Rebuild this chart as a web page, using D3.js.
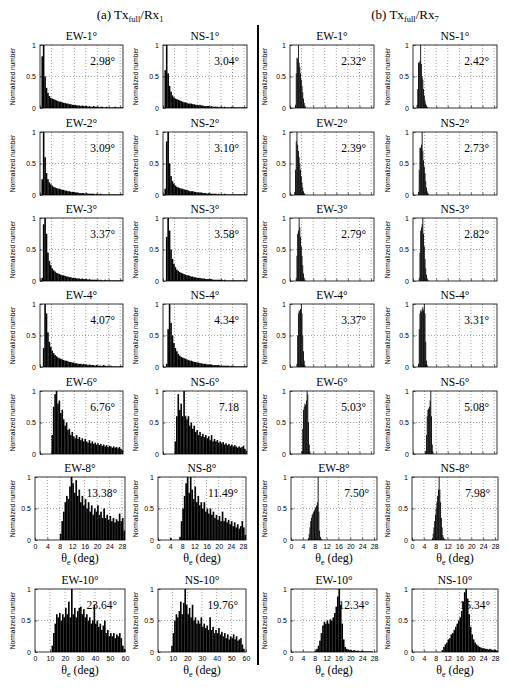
<!DOCTYPE html>
<html>
<head>
<meta charset="utf-8">
<script src="https://cdn.jsdelivr.net/npm/d3@7"></script>
<style>
  body { margin: 0; background: #fff; }
  text { fill: #000; }
</style>
</head>
<body>
<svg id="chart"></svg>
<script>
// Histogramas normalizados de theta_e, (a) Tx_full/Rx1 y (b) Tx_full/Rx7

const svg_w = 510;
const svg_h = 689;

// etiquetas de cada fila (ángulo) y medianas escritas en cada panel
const rowDeg = [1, 2, 3, 4, 6, 8, 10];
const medA_EW = ["2.98°", "3.09°", "3.37°", "4.07°", "6.76°", "13.38°", "23.64°"];
const medA_NS = ["3.04°", "3.10°", "3.58°", "4.34°", "7.18", "11.49°", "19.76°"];
const medB_EW = ["2.32°", "2.39°", "2.79°", "3.37°", "5.03°", "7.50°", "12.34°"];
const medB_NS = ["2.42°", "2.73°", "2.82°", "3.31°", "5.08°", "7.98°", "15.34°"];

// ancho de bin (grados) y comienzo del primer bin
const binA = [0.5, 0.5, 0.5, 0.5, 0.5, 0.5, 1];
const binB = [0.25, 0.25, 0.25, 0.25, 0.25, 0.25, 0.5];
const startA_EW = [0, 0, 0, 0, 0, 0, 0];
const startA_NS = [0, 0, 0, 0, 0, 0, 0];
const startB_EW = [1.75, 1.5, 2, 2.25, 4, 5.75, 8];
const startB_NS = [1.25, 1.75, 2, 1.75, 4.25, 6.75, 10];

// límites del eje x y marcas
const xMaxA = [29, 29, 29, 29, 29, 29, 60];
const xMaxB = [29, 29, 29, 29, 29, 29, 29];
const ticks30 = [0, 4, 8, 12, 16, 20, 24, 28];
const ticks60 = [0, 10, 20, 30, 40, 50, 60];
const yTicks = [0, 0.5, 1];

// (a) Tx_full/Rx1 -- EW
const aEW1 = [0, 0.82, 1.0, 0.5, 0.32, 0.24, 0.19, 0.16, 0.15, 0.14, 0.13, 0.12, 0.11, 0.1, 0.1, 0.09, 0.08, 0.08, 0.07, 0.07, 0.06, 0.06, 0.05, 0.05, 0.05, 0.04, 0.04, 0.04, 0.03, 0.04, 0.03, 0.03, 0.03, 0.02, 0.03, 0.02, 0.02, 0.03, 0.02, 0.02, 0.02, 0.01, 0.02, 0.02, 0.01, 0.01, 0.02, 0.01, 0.01, 0.01, 0.01, 0.01, 0.02, 0.01, 0.01, 0.01, 0.01, 0.01];
const aEW2 = [0, 0.25, 1.0, 0.6, 0.35, 0.25, 0.2, 0.17, 0.15, 0.13, 0.12, 0.11, 0.1, 0.1, 0.09, 0.08, 0.08, 0.07, 0.07, 0.06, 0.06, 0.05, 0.05, 0.05, 0.04, 0.04, 0.04, 0.03, 0.03, 0.03, 0.03, 0.02, 0.03, 0.02, 0.02, 0.02, 0.02, 0.02, 0.01, 0.02, 0.01, 0.01, 0.02, 0.01, 0.01, 0.01, 0.01, 0.01, 0.01, 0.01, 0.01, 0.01, 0.01, 0.01, 0.01, 0.01, 0.01, 0.01];
const aEW3 = [0, 0.05, 0.9, 1.0, 0.75, 0.45, 0.32, 0.25, 0.2, 0.17, 0.15, 0.13, 0.12, 0.11, 0.1, 0.09, 0.09, 0.08, 0.07, 0.07, 0.06, 0.06, 0.05, 0.05, 0.05, 0.04, 0.04, 0.04, 0.03, 0.04, 0.03, 0.03, 0.03, 0.02, 0.03, 0.02, 0.02, 0.02, 0.02, 0.02, 0.02, 0.01, 0.02, 0.01, 0.01, 0.02, 0.01, 0.01, 0.01, 0.01, 0.01, 0.01, 0.01, 0.01, 0.01, 0.01, 0.01, 0.01];
const aEW4 = [0, 0, 0.3, 1.0, 0.85, 0.55, 0.4, 0.32, 0.26, 0.22, 0.19, 0.17, 0.15, 0.14, 0.13, 0.12, 0.11, 0.1, 0.1, 0.09, 0.08, 0.08, 0.07, 0.07, 0.06, 0.06, 0.05, 0.05, 0.05, 0.04, 0.05, 0.04, 0.04, 0.03, 0.04, 0.03, 0.03, 0.03, 0.02, 0.03, 0.02, 0.02, 0.02, 0.02, 0.03, 0.02, 0.01, 0.02, 0.01, 0.02, 0.01, 0.01, 0.01, 0.01, 0.01, 0.01, 0.01, 0.01];
const aEW6 = [0, 0, 0, 0, 0, 0, 0, 0, 0.3, 0.75, 0.95, 1.0, 0.8, 0.85, 0.65, 0.7, 0.55, 0.45, 0.5, 0.38, 0.4, 0.3, 0.35, 0.28, 0.25, 0.3, 0.24, 0.27, 0.22, 0.25, 0.2, 0.24, 0.2, 0.18, 0.22, 0.17, 0.2, 0.16, 0.18, 0.15, 0.17, 0.14, 0.16, 0.13, 0.15, 0.12, 0.14, 0.11, 0.13, 0.12, 0.1, 0.12, 0.1, 0.11, 0.09, 0.11, 0.08, 0.06];
const aEW8 = [0, 0, 0, 0, 0, 0, 0, 0, 0, 0, 0, 0, 0, 0, 0, 0, 0.1, 0.3, 0.45, 0.6, 0.7, 0.65, 0.85, 1.0, 0.9, 0.75, 0.95, 0.7, 0.8, 0.6, 0.7, 0.55, 0.65, 0.5, 0.6, 0.45, 0.55, 0.4, 0.5, 0.45, 0.55, 0.4, 0.45, 0.35, 0.5, 0.35, 0.4, 0.32, 0.38, 0.3, 0.35, 0.28, 0.33, 0.3, 0.42, 0.3, 0.35, 0.15];
const aEW10 = [0, 0, 0, 0, 0, 0, 0, 0, 0, 0, 0, 0.1, 0.3, 0.45, 0.6, 0.55, 0.62, 0.5, 0.6, 0.55, 0.7, 0.6, 0.8, 0.55, 1.0, 0.6, 0.7, 0.55, 0.65, 0.7, 0.72, 0.6, 0.68, 0.55, 0.6, 0.5, 0.55, 0.45, 0.5, 0.75, 0.45, 0.5, 0.4, 0.45, 0.35, 0.42, 0.5, 0.3, 0.35, 0.25, 0.3, 0.25, 0.3, 0.22, 0.28, 0.25, 0.3, 0.22, 0.1, 0.05];

// (a) Tx_full/Rx1 -- NS
const aNS1 = [0, 0.6, 1.0, 0.55, 0.35, 0.26, 0.2, 0.17, 0.15, 0.14, 0.13, 0.12, 0.11, 0.1, 0.09, 0.09, 0.08, 0.07, 0.07, 0.07, 0.06, 0.06, 0.05, 0.05, 0.04, 0.05, 0.04, 0.04, 0.03, 0.03, 0.03, 0.03, 0.02, 0.03, 0.02, 0.02, 0.02, 0.02, 0.01, 0.02, 0.02, 0.01, 0.02, 0.01, 0.01, 0.01, 0.01, 0.02, 0.01, 0.01, 0.01, 0.01, 0.01, 0.01, 0.01, 0.01, 0.01, 0.01];
const aNS2 = [0, 0.1, 0.85, 1.0, 0.5, 0.3, 0.22, 0.18, 0.15, 0.13, 0.12, 0.11, 0.1, 0.1, 0.09, 0.08, 0.08, 0.07, 0.06, 0.06, 0.06, 0.05, 0.05, 0.04, 0.04, 0.04, 0.04, 0.03, 0.03, 0.03, 0.02, 0.03, 0.02, 0.02, 0.02, 0.02, 0.02, 0.01, 0.02, 0.01, 0.01, 0.01, 0.02, 0.01, 0.01, 0.01, 0.01, 0.01, 0.01, 0.01, 0.01, 0.01, 0.01, 0.01, 0.01, 0.01, 0.01, 0.01];
const aNS3 = [0, 0, 0.7, 1.0, 0.8, 0.5, 0.35, 0.27, 0.22, 0.18, 0.16, 0.14, 0.13, 0.12, 0.11, 0.1, 0.09, 0.09, 0.08, 0.07, 0.07, 0.06, 0.06, 0.05, 0.05, 0.05, 0.04, 0.04, 0.04, 0.03, 0.03, 0.03, 0.03, 0.03, 0.02, 0.02, 0.02, 0.02, 0.02, 0.02, 0.02, 0.01, 0.02, 0.01, 0.01, 0.01, 0.01, 0.01, 0.01, 0.01, 0.01, 0.01, 0.01, 0.01, 0.01, 0.01, 0.01, 0.01];
const aNS4 = [0, 0, 0.05, 0.6, 1.0, 0.7, 0.5, 0.38, 0.3, 0.25, 0.21, 0.18, 0.16, 0.15, 0.14, 0.13, 0.12, 0.11, 0.1, 0.1, 0.09, 0.08, 0.08, 0.07, 0.07, 0.06, 0.06, 0.05, 0.05, 0.05, 0.04, 0.04, 0.04, 0.04, 0.03, 0.03, 0.03, 0.03, 0.03, 0.02, 0.02, 0.02, 0.02, 0.02, 0.02, 0.02, 0.01, 0.02, 0.01, 0.01, 0.01, 0.01, 0.01, 0.01, 0.01, 0.01, 0.01, 0.01];
const aNS6 = [0, 0, 0, 0, 0, 0, 0, 0, 0.2, 0.6, 0.95, 0.7, 0.8, 0.6, 1.0, 0.6, 0.55, 0.6, 0.45, 0.5, 0.4, 0.45, 0.35, 0.38, 0.3, 0.35, 0.28, 0.32, 0.27, 0.3, 0.25, 0.28, 0.22, 0.3, 0.2, 0.24, 0.2, 0.22, 0.18, 0.2, 0.17, 0.19, 0.15, 0.17, 0.14, 0.16, 0.13, 0.15, 0.12, 0.14, 0.12, 0.1, 0.12, 0.1, 0.11, 0.13, 0.08, 0.05];
const aNS8 = [0, 0, 0, 0, 0, 0, 0, 0, 0.03, 0, 0, 0, 0, 0, 0.05, 0.3, 0.5, 0.7, 0.9, 1.0, 0.75, 1.0, 0.8, 0.65, 0.85, 0.6, 0.7, 0.55, 0.6, 0.5, 0.6, 0.45, 0.5, 0.42, 0.5, 0.4, 0.45, 0.35, 0.4, 0.32, 0.38, 0.3, 0.45, 0.3, 0.35, 0.28, 0.32, 0.25, 0.3, 0.22, 0.28, 0.2, 0.25, 0.18, 0.22, 0.3, 0.2, 0.08];
const aNS10 = [0, 0, 0, 0, 0, 0, 0, 0, 0, 0.1, 0.3, 0.5, 0.6, 0.55, 0.65, 0.8, 0.6, 0.78, 1.0, 0.75, 0.6, 0.7, 0.55, 0.75, 0.5, 0.55, 0.45, 0.5, 0.45, 0.55, 0.4, 0.45, 0.38, 0.42, 0.35, 0.55, 0.35, 0.4, 0.3, 0.35, 0.3, 0.38, 0.28, 0.32, 0.25, 0.3, 0.22, 0.28, 0.2, 0.25, 0.22, 0.28, 0.2, 0.25, 0.18, 0.2, 0.22, 0.12, 0.05];

// (b) Tx_full/Rx7 -- EW
const bEW1 = [0.05, 0.55, 0.8, 0.78, 1.0, 0.72, 0.65, 0.55, 0.45, 0.35, 0.25, 0.15, 0.08, 0.04, 0.02];
const bEW2 = [0.05, 0.4, 0.85, 1.0, 0.8, 0.7, 0.6, 0.5, 0.4, 0.3, 0.2, 0.12, 0.06, 0.03, 0.01];
const bEW3 = [0.05, 0.4, 0.75, 0.8, 1.0, 0.85, 0.7, 0.55, 0.4, 0.25, 0.12, 0.05, 0.02];
const bEW4 = [0.05, 0.5, 0.85, 0.9, 0.88, 0.92, 1.0, 0.85, 0.5, 0.25, 0.1, 0.03];
const bEW6 = [0.05, 0.4, 0.7, 0.75, 0.8, 0.78, 0.85, 1.0, 0.95, 0.5, 0.15, 0.04];
const bEW8 = [0.03, 0.1, 0.2, 0.3, 0.35, 0.4, 0.42, 0.45, 0.47, 0.5, 0.52, 0.55, 0.6, 1.0, 0.45, 0.15, 0.05, 0.02, 0.01];
const bEW10 = [0.02, 0.05, 0.1, 0.18, 0.3, 0.42, 0.48, 0.45, 0.5, 0.45, 0.52, 0.5, 0.55, 0.62, 0.72, 0.88, 1.0, 0.75, 0.45, 0.2, 0.08, 0.05, 0.04, 0.03, 0.03, 0.02, 0.03, 0.02, 0.02, 0.02, 0.01, 0.02, 0.01, 0.01, 0.01, 0.01, 0.01, 0.01, 0.01];

// (b) Tx_full/Rx7 -- NS
const bNS1 = [0.05, 0.3, 0.72, 0.72, 0.75, 1.0, 0.7, 0.5, 0.45, 0.3, 0.2, 0.12, 0.07, 0.04, 0.02];
const bNS2 = [0.05, 0.4, 0.75, 0.75, 0.8, 1.0, 0.7, 0.55, 0.45, 0.35, 0.22, 0.12, 0.06, 0.03, 0.01];
const bNS3 = [0.05, 0.45, 0.8, 0.85, 0.9, 1.0, 0.75, 0.55, 0.35, 0.2, 0.1, 0.04, 0.02];
const bNS4 = [0.05, 0.6, 0.85, 0.9, 0.88, 0.92, 0.95, 0.9, 1.0, 0.85, 0.4, 0.1, 0.03];
const bNS6 = [0.05, 0.3, 0.6, 0.7, 0.72, 0.75, 0.85, 1.0, 0.6, 0.15, 0.04];
const bNS8 = [0.03, 0.1, 0.2, 0.3, 0.4, 0.5, 0.6, 0.7, 0.8, 1.0, 0.8, 0.6, 0.35, 0.2, 0.08, 0.04, 0.02, 0.01];
const bNS10 = [0.03, 0.08, 0.12, 0.15, 0.2, 0.22, 0.28, 0.3, 0.35, 0.4, 0.45, 0.5, 0.55, 0.65, 0.8, 0.95, 1.0, 0.85, 0.6, 0.4, 0.28, 0.2, 0.15, 0.12, 0.1, 0.08, 0.07, 0.06, 0.06, 0.05, 0.05, 0.04, 0.05, 0.04, 0.03, 0.04, 0.03, 0.02];

const histA_EW = [aEW1, aEW2, aEW3, aEW4, aEW6, aEW8, aEW10];
const histA_NS = [aNS1, aNS2, aNS3, aNS4, aNS6, aNS8, aNS10];
const histB_EW = [bEW1, bEW2, bEW3, bEW4, bEW6, bEW8, bEW10];
const histB_NS = [bNS1, bNS2, bNS3, bNS4, bNS6, bNS8, bNS10];

// geometría de los paneles
const rowTop = [45, 132, 218, 304, 391, 477, 589];
const panel_h = 63;
const colLeftTop = [40, 163, 290, 413];
const colRightTop = [123, 247, 374, 497];
const colLeftBot = [35, 158, 291, 412];
const colRightBot = [125, 246, 377, 498];

const serif = "'Liberation Serif', 'DejaVu Serif', serif";
const sans = "'Liberation Sans', Arial, sans-serif";

let svg = d3.select("#chart")
  .attr("width", svg_w)
  .attr("height", svg_h)
  .style("background", "#fff");

// títulos de cada mitad
function section_title(x, letter, rx) {
  let t = svg.append("text")
    .attr("x", x).attr("y", 19)
    .attr("text-anchor", "middle")
    .style("font-family", serif)
    .style("font-size", "13px");
  t.append("tspan").text(`(${letter}) Tx`);
  t.append("tspan").text("full").attr("dy", 3).style("font-size", "8.5px");
  t.append("tspan").text("/Rx").attr("dy", -3);
  t.append("tspan").text(rx).attr("dy", 3).style("font-size", "8.5px");
}
section_title(130, "a", "1");
section_title(405, "b", "7");

// línea divisoria
svg.append("line")
  .attr("x1", 258).attr("x2", 258)
  .attr("y1", 25).attr("y2", 665)
  .attr("stroke", "#000")
  .attr("stroke-width", 2);

let panels = [];
rowDeg.forEach((deg, r) => {
  const cols = [
    {name: `EW-${deg}°`, med: medA_EW[r], vals: histA_EW[r], start: startA_EW[r], bw: binA[r], xmax: xMaxA[r]},
    {name: `NS-${deg}°`, med: medA_NS[r], vals: histA_NS[r], start: startA_NS[r], bw: binA[r], xmax: xMaxA[r]},
    {name: `EW-${deg}°`, med: medB_EW[r], vals: histB_EW[r], start: startB_EW[r], bw: binB[r], xmax: xMaxB[r]},
    {name: `NS-${deg}°`, med: medB_NS[r], vals: histB_NS[r], start: startB_NS[r], bw: binB[r], xmax: xMaxB[r]}
  ];
  cols.forEach((c, k) => {
    c.row = r;
    c.col = k;
    c.labels = r >= 5;
    c.ticks = c.xmax > 30 ? ticks60 : ticks30;
    c.left = r >= 5 ? colLeftBot[k] : colLeftTop[k];
    c.right = r >= 5 ? colRightBot[k] : colRightTop[k];
    panels.push(c);
  });
});

panels.forEach(p => draw_panel(p));

function draw_panel(p) {
  const w = p.right - p.left;
  const h = panel_h;
  let g = svg.append("g")
    .attr("transform", `translate(${p.left},${rowTop[p.row]})`);

  let x = d3.scaleLinear().domain([0, p.xmax]).range([0, w]);
  let y = d3.scaleLinear().domain([0, 1]).range([h, 0]);

  // rejilla punteada
  g.append("g").selectAll("line")
    .data(p.ticks.filter(t => t > 0 && t < p.xmax))
    .join("line")
    .attr("x1", d => x(d)).attr("x2", d => x(d))
    .attr("y1", 0).attr("y2", h)
    .attr("stroke", "#777").attr("stroke-width", 0.7)
    .attr("stroke-dasharray", "1,2");
  g.append("line")
    .attr("x1", 0).attr("x2", w)
    .attr("y1", y(0.5)).attr("y2", y(0.5))
    .attr("stroke", "#777").attr("stroke-width", 0.7)
    .attr("stroke-dasharray", "1,2");

  // barras del histograma
  let bins = p.vals.map((v, i) => ({x0: p.start + i * p.bw, v: v})).filter(d => d.v > 0);
  g.append("g").selectAll("rect")
    .data(bins)
    .join("rect")
    .attr("x", d => x(d.x0))
    .attr("width", d => x(d.x0 + p.bw) - x(d.x0) + 0.15)
    .attr("y", d => y(d.v))
    .attr("height", d => h - y(d.v))
    .attr("fill", "#000");

  // ejes
  let ya = g.append("g")
    .call(d3.axisLeft(y).tickValues(yTicks).tickSize(-2.5).tickPadding(4).tickFormat(d3.format("~g")));
  ya.select(".domain").remove();
  ya.selectAll("text").style("font-family", sans).style("font-size", "7px");
  ya.selectAll("line").attr("stroke-width", 0.6);

  let xa = g.append("g")
    .attr("transform", `translate(0,${h})`)
    .call(d3.axisBottom(x).tickValues(p.ticks).tickSize(-2.5).tickPadding(4)
      .tickFormat(p.labels ? d3.format("d") : ""));
  xa.select(".domain").remove();
  xa.selectAll("text").style("font-family", sans).style("font-size", "7px");
  xa.selectAll("line").attr("stroke-width", 0.6);

  // marco
  g.append("rect")
    .attr("width", w).attr("height", h)
    .attr("fill", "none").attr("stroke", "#000").attr("stroke-width", 0.8);

  // título del panel
  g.append("text")
    .attr("x", w / 2).attr("y", -5)
    .attr("text-anchor", "middle")
    .style("font-family", serif).style("font-size", "11.5px")
    .text(p.name);

  // mediana
  g.append("text")
    .attr("x", w - 8).attr("y", 20)
    .attr("text-anchor", "end")
    .style("font-family", serif).style("font-size", "11.5px")
    .text(p.med);

  // etiqueta del eje y
  g.append("text")
    .attr("transform", `translate(${(p.col % 2 == 0 ? 15 : 138) + (p.col >= 2 ? 252 : 0) - p.left},${h / 2}) rotate(-90)`)
    .attr("text-anchor", "middle")
    .style("font-family", sans).style("font-size", "6.6px")
    .text("Normalized number");

  // etiqueta del eje x
  if (p.labels) {
    let t = g.append("text")
      .attr("x", w / 2).attr("y", h + 22)
      .attr("text-anchor", "middle")
      .style("font-family", serif).style("font-size", "12px");
    t.append("tspan").text("θ");
    t.append("tspan").text("e").attr("dy", 3).style("font-size", "8px");
    t.append("tspan").text(" (deg)").attr("dy", -3);
  }
}
</script>
</body>
</html>
